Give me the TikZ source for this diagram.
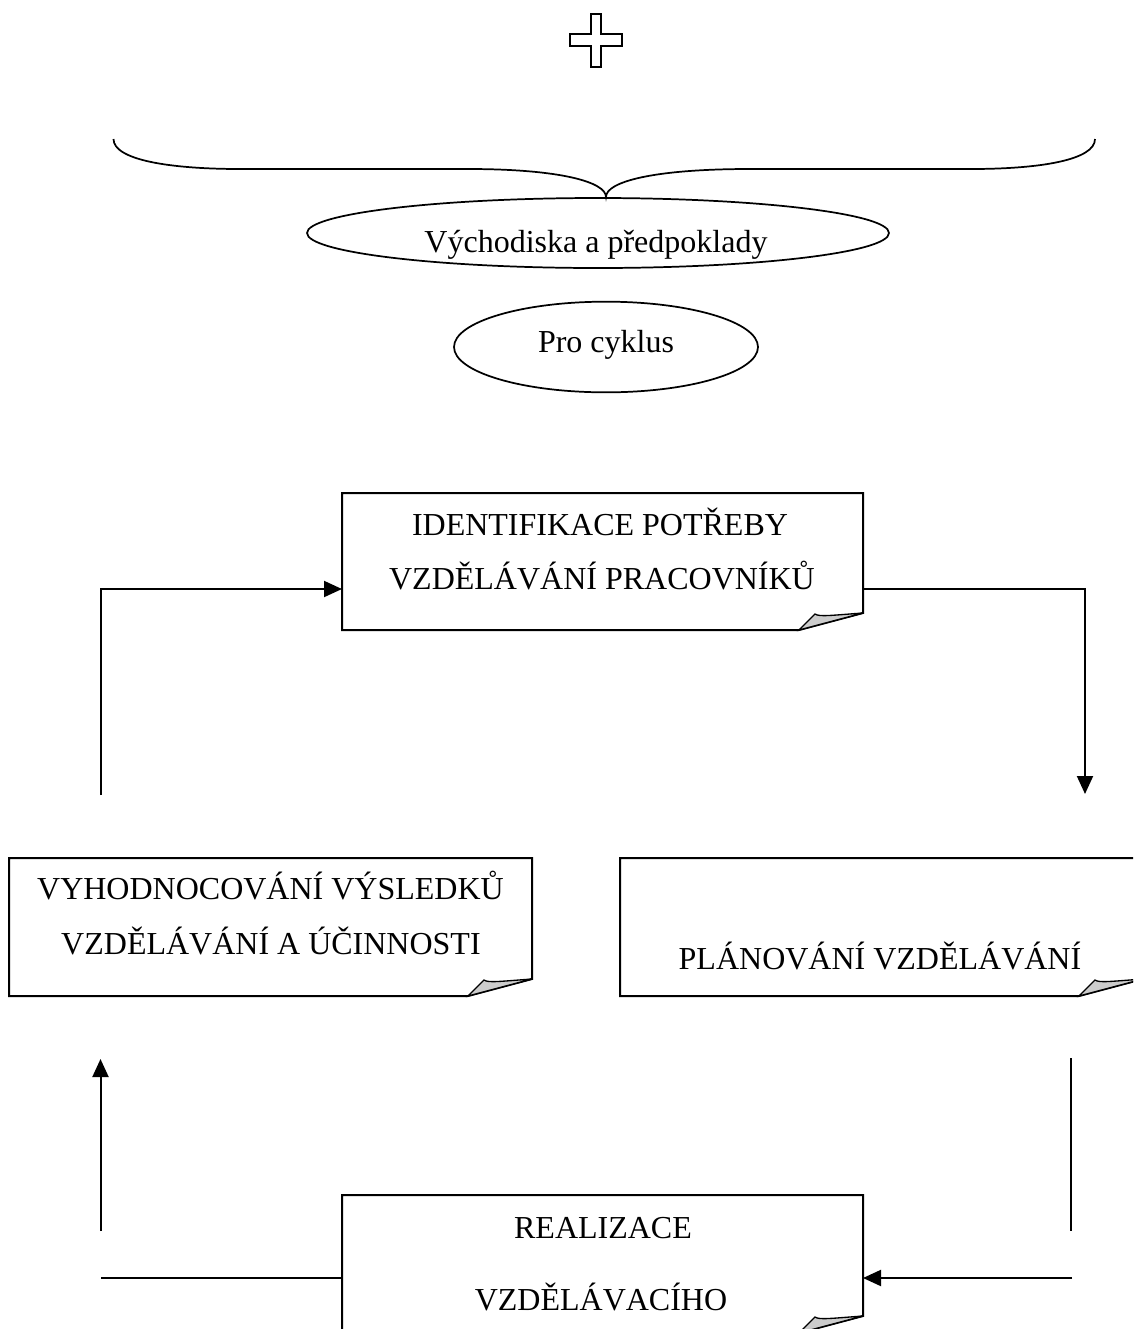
\documentclass[tikz,border=0pt]{standalone}
\usepackage{fontspec}
\setmainfont{Liberation Serif}[Kerning=Off]
\usetikzlibrary{arrows.meta,shapes.geometric,calc}
\definecolor{flapgray}{RGB}{204,204,204}
\tikzset{
  lbl/.style={font=\fontsize{24}{30}\selectfont, inner sep=0pt, anchor=base},
  arr/.style={-{Triangle[length=13.5pt,width=12pt]}},
  boxnode/.style={rectangle, inner sep=0pt, draw=none},
  oval/.style={ellipse, draw, inner sep=0pt},
}
% #1 name: draws folded-corner outline and curled flap
\newcommand{\foldoutline}[1]{%
  \draw (#1.north west) -- (#1.north east) -- ([yshift=12.75pt]#1.south east)
        -- ([xshift=-48pt]#1.south east) -- (#1.south west) -- cycle;
  \filldraw[fill=flapgray, line width=1pt] ([xshift=-48pt]#1.south east)
        -- ([xshift=-36pt,yshift=12pt]#1.south east)
        .. controls ([xshift=-33pt,yshift=9.75pt]#1.south east) and ([xshift=-24pt,yshift=11pt]#1.south east)
        .. ([yshift=12.75pt]#1.south east) -- cycle;
}
\begin{document}
\begin{tikzpicture}[x=0.75pt, y=-0.75pt, line width=1.5pt]
\useasboundingbox (0,0) rectangle (1133,1329);
\clip (0,0) rectangle (1133,1329);

% cross
\draw[line width=1.5pt] (591,14) -- (601,14) -- (601,34) -- (622,34) -- (622,46) -- (601,46)
  -- (601,67) -- (591,67) -- (591,46) -- (570,46) -- (570,34) -- (591,34) -- cycle;

% brace
\draw[line width=1.3pt] (113.5,139) .. controls (113.5,160) and (170,169) .. (240,169)
  -- (468,169) .. controls (560,169) and (606,182) .. (606,197)
  .. controls (606,182) and (652,169) .. (750,169)
  -- (971,169) .. controls (1040,169) and (1095,160) .. (1095,139);

% ellipses
\node[oval, line width=1.3pt, minimum width=436.5pt, minimum height=52.5pt] (vych) at (598,233) {};
\node[lbl] (vychT) at (596,252) {Východiska a předpoklady};
\node[oval, line width=1.3pt, minimum width=228pt, minimum height=68pt] (pro) at (606,347) {};
\node[lbl] (proT) at (606,352) {Pro cyklus};

% boxes
\node[boxnode, minimum width=389.25pt, minimum height=101.25pt] (ident) at (602.5,561.5) {};
\foldoutline{ident}
\node[lbl] (identA) at (600,535) {IDENTIFIKACE POTŘEBY};
\node[lbl] (identB) at (602,589) {VZDĚLÁVÁNÍ PRACOVNÍKŮ};

\node[boxnode, minimum width=390.75pt, minimum height=102pt] (vyh) at (270.5,927) {};
\foldoutline{vyh}
\node[lbl] (vyhA) at (270.5,899) {VYHODNOCOVÁNÍ VÝSLEDKŮ};
\node[lbl] (vyhB) at (271,954) {VZDĚLÁVÁNÍ A ÚČINNOSTI};

\node[boxnode, minimum width=390.75pt, minimum height=102pt] (plan) at (881.5,927) {};
\foldoutline{plan}
\node[lbl] (planA) at (880,969) {PLÁNOVÁNÍ VZDĚLÁVÁNÍ};

\node[boxnode, minimum width=389.25pt, minimum height=102pt] (real) at (602.5,1264) {};
\foldoutline{real}
\node[lbl] (realA) at (603,1238) {REALIZACE};
\node[lbl] (realB) at (601,1310) {VZDĚLÁVACÍHO};

% connector end points
\coordinate (c1) at (100.5,795);
\coordinate (c2) at (1085,794);
\coordinate (c3) at (1071,1058);
\coordinate (c4) at (1071,1231);
\coordinate (c5) at (1072,1278);
\coordinate (c6) at (100.5,1278);
\coordinate (c7) at (100.5,1231);
\coordinate (c8) at (100.5,1059);

% connectors
\draw[arr] (c1) |- ($(ident.west)+(0,27.5)$);
\draw[arr] ($(ident.east)+(0,27.5)$) -| (c2);
\draw (c3) -- (c4);
\draw[arr] (c5) -- ($(real.east)+(0,14)$);
\draw ($(real.west)+(0,14)$) -- (c6);
\draw[arr] (c7) -- (c8);
\end{tikzpicture}
\end{document}
